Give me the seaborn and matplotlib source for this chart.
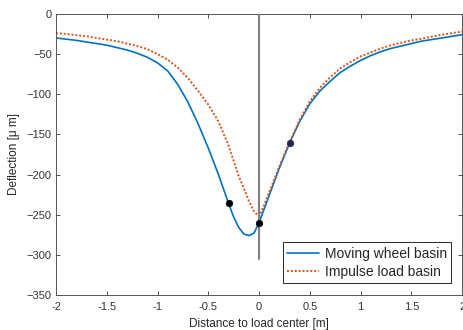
import numpy as np
import pandas as pd
import matplotlib
matplotlib.use("Agg")
import matplotlib.pyplot as plt
import seaborn as sns

# Deflection basins along the distance to the load center
x_moving = [-2.0, -1.9, -1.8, -1.7, -1.6, -1.5, -1.4, -1.3, -1.2, -1.1, -1.0,
            -0.9, -0.8, -0.7, -0.6, -0.5, -0.4, -0.3, -0.25, -0.2, -0.15, -0.1,
            -0.05, 0.0, 0.1, 0.2, 0.3, 0.4, 0.5, 0.6, 0.7, 0.8, 0.9, 1.0, 1.1,
            1.2, 1.3, 1.4, 1.5, 1.6, 1.7, 1.8, 1.9, 2.0]
y_moving = [-30, -31.5, -33, -35, -37, -39, -42, -45, -49, -54, -61,
            -71, -88, -110, -137, -167, -200, -236, -253, -266, -274, -276,
            -273, -260, -226, -192, -161, -134, -112, -96, -84, -73, -65, -58, -52,
            -47, -43, -40, -37, -34, -32, -30, -28, -26]

x_impulse = [-2.0, -1.9, -1.8, -1.7, -1.6, -1.5, -1.4, -1.3, -1.2, -1.1, -1.0,
             -0.9, -0.8, -0.7, -0.6, -0.5, -0.4, -0.3, -0.2, -0.15, -0.1, -0.05,
             0.0, 0.05, 0.1, 0.2, 0.3, 0.4, 0.5, 0.6, 0.7, 0.8, 0.9, 1.0, 1.1,
             1.2, 1.3, 1.4, 1.5, 1.6, 1.7, 1.8, 1.9, 2.0]
y_impulse = [-24, -25, -26.5, -28, -30, -32, -34, -37, -40, -44, -50,
             -57, -67, -80, -96, -113, -134, -164, -202, -217, -233, -246,
             -252, -238, -222, -190, -160, -132, -109, -92, -79, -68, -60, -53, -48,
             -43, -39, -36, -33, -31, -28.5, -26, -24, -22]

# Sensor positions marked on the moving wheel basin
x_sensor = [-0.3, 0.0, 0.3]
y_sensor = [-236, -260, -161]

# Load center reference line
x_center = [0.0, 0.0]
y_center = [0, -305]

series_names = ["Moving wheel basin", "Impulse load basin"]
x_ticks = [-2, -1.5, -1, -0.5, 0, 0.5, 1, 1.5, 2]
x_tick_labels = ["-2", "-1.5", "-1", "-0.5", "0", "0.5", "1", "1.5", "2"]
y_ticks = [0, -50, -100, -150, -200, -250, -300, -350]

sns.set_style("ticks")
plt.rcParams["font.family"] = ["Liberation Sans", "DejaVu Sans"]
plt.rcParams["xtick.direction"] = "in"
plt.rcParams["ytick.direction"] = "in"

fig = plt.figure(figsize=(4.63, 3.30), dpi=100)
ax = fig.add_axes([0.121, 0.106, 0.877, 0.852])

df_moving = pd.DataFrame({"x": x_moving, "y": y_moving})
df_impulse = pd.DataFrame({"x": x_impulse, "y": y_impulse})

sns.lineplot(data=df_moving, x="x", y="y", ax=ax, color="#0072BD",
             linewidth=1.2, label=series_names[0], sort=False)
sns.lineplot(data=df_impulse, x="x", y="y", ax=ax, color="#D95319",
             linewidth=1.4, linestyle=(0, (1, 1)), label=series_names[1],
             sort=False)
ax.plot(x_center, y_center, color="#7f7f7f", linewidth=1.5, zorder=3)
sns.scatterplot(x=x_sensor[:2], y=y_sensor[:2], ax=ax, color="black",
                s=22, edgecolor="black", linewidth=0.5, zorder=5)
sns.scatterplot(x=x_sensor[2:], y=y_sensor[2:], ax=ax, color="#26264f",
                s=22, edgecolor="#26264f", linewidth=0.5, zorder=5)

ax.set_xlim(-2, 2)
ax.set_ylim(-350, 0)
ax.set_xticks(x_ticks)
ax.set_xticklabels(x_tick_labels)
ax.set_yticks(y_ticks)
ax.tick_params(axis="both", labelsize=8, colors="#333333", length=3,
               width=0.6, top=True, right=True)
ax.tick_params(axis="x", pad=5)
ax.tick_params(axis="y", pad=3)
for side in ["top", "right", "bottom", "left"]:
    ax.spines[side].set_visible(True)
    ax.spines[side].set_color("#555555")
    ax.spines[side].set_linewidth(0.7)

ax.set_xlabel("Distance to load center [m]", fontsize=8.5, color="#262626",
              labelpad=4)
ax.set_ylabel("Deflection [\u03bc m]", fontsize=8.5, color="#262626",
              labelpad=5)

leg = ax.legend(loc="lower right", fontsize=10, frameon=True, fancybox=False,
                edgecolor="#262626", framealpha=1, borderpad=0.3,
                handlelength=2.3, handletextpad=0.4, labelspacing=0.3,
                borderaxespad=0, bbox_to_anchor=(0.973, 0.043))
leg.get_frame().set_linewidth(0.7)

fig.savefig("out.png", dpi=100)
